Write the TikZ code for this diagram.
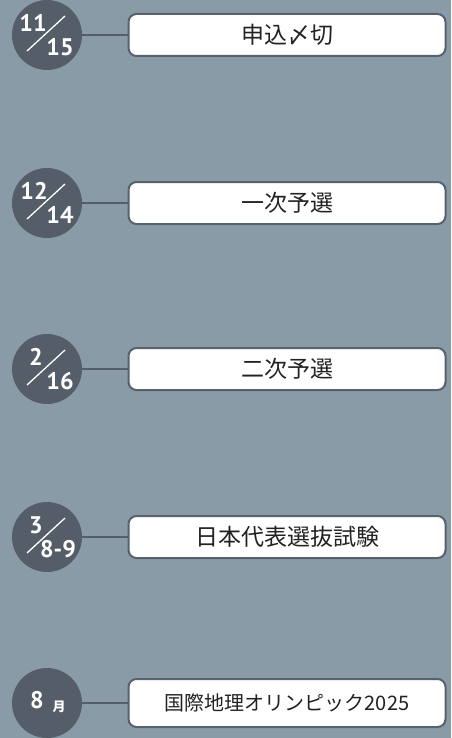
\documentclass[tikz,border=0pt]{standalone}
\usepackage{fontspec}
\setmainfont{Noto Sans CJK JP}
\newfontfamily\numfont{PT Sans}
\newfontfamily\jpfont{Noto Sans CJK JP}
\definecolor{bg}{RGB}{138,155,168}
\definecolor{dark}{RGB}{85,94,104}
\definecolor{edge}{RGB}{88,98,108}
\definecolor{ink}{RGB}{34,34,34}
\begin{document}
\begin{tikzpicture}[x=1pt,y=-1pt,
  datecirc/.style={circle, fill=dark, minimum size=70pt, inner sep=0pt},
  labelbox/.style={draw=edge, line width=2pt, fill=white, rounded corners=8pt,
    minimum width=317pt, minimum height=42pt, inner sep=0pt, text=ink,
    font=\jpfont\fontsize{23}{23}\selectfont},
  conn/.style={draw=dark, line width=2pt},
  num/.style={text=white, inner sep=0pt, font=\numfont\bfseries\fontsize{24}{24}\selectfont},
  slash/.style={draw=white, line width=1.3pt}
]
\fill[bg] (0,0) rectangle (451,738);
\useasboundingbox (0,0) rectangle (451,738);

% row 1
\node[datecirc] (c1) at (47,35) {};
\node[labelbox] (b1) at (287,35) {申込〆切};
\draw[conn] (c1) -- (b1);
\node[num] (t1) at ([shift={(-14,-12)}]c1.center) {11};
\node[num] (u1) at ([shift={(13,12)}]c1.center) {15};
\draw[slash] ([shift={(-20,16)}]c1.center) -- ([shift={(18,-19)}]c1.center);

% row 2
\node[datecirc] (c2) at (47,203) {};
\node[labelbox] (b2) at (287,203) {一次予選};
\draw[conn] (c2) -- (b2);
\node[num] (t2) at ([shift={(-13,-12)}]c2.center) {12};
\node[num] (u2) at ([shift={(13,12)}]c2.center) {14};
\draw[slash] ([shift={(-20,16)}]c2.center) -- ([shift={(18,-19)}]c2.center);

% row 3
\node[datecirc] (c3) at (47,369) {};
\node[labelbox] (b3) at (287,369) {二次予選};
\draw[conn] (c3) -- (b3);
\node[num] (t3) at ([shift={(-11,-12)}]c3.center) {2};
\node[num] (u3) at ([shift={(13,12)}]c3.center) {16};
\draw[slash] ([shift={(-20,16)}]c3.center) -- ([shift={(18,-19)}]c3.center);

% row 4
\node[datecirc] (c4) at (47,537) {};
\node[labelbox] (b4) at (287,537) {日本代表選抜試験};
\draw[conn] (c4) -- (b4);
\node[num] (t4) at ([shift={(-11,-12)}]c4.center) {3};
\node[num] (u4) at ([shift={(11,12)}]c4.center) {8-9};
\draw[slash] ([shift={(-20,16)}]c4.center) -- ([shift={(18,-19)}]c4.center);

% row 5
\node[datecirc] (c5) at (47,703) {};
\node[labelbox, minimum height=48pt, font=\jpfont\fontsize{20}{20}\selectfont] (b5) at (287,703) {国際地理オリンピック2025};
\draw[conn] (c5) -- (b5);
\node[num] (t5) at ([shift={(-10,-3)}]c5.center) {8};
\node[text=white, inner sep=0pt, font=\jpfont\bfseries\fontsize{13}{13}\selectfont] (u5) at ([shift={(12,4)}]c5.center) {月};
\end{tikzpicture}
\end{document}
